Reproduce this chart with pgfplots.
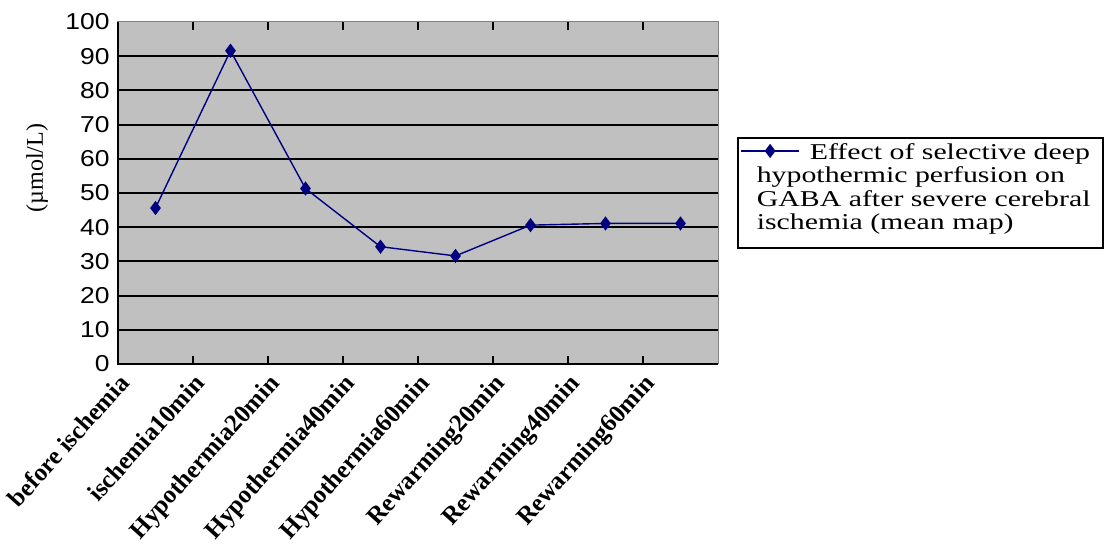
\documentclass[border=0pt]{standalone}
\usepackage{pgfplots}
\pgfplotsset{compat=1.18}
\usepackage{fontspec}
\setmainfont{Liberation Serif}
\newfontfamily\legfont[FakeStretch=1.32]{Liberation Serif}
\newfontfamily\tickfont[FakeStretch=1.15]{Liberation Sans}
\definecolor{bggray}{HTML}{C0C0C0}
\definecolor{navy}{HTML}{000080}
\definecolor{framegray}{HTML}{808080}
\begin{document}
\begin{tikzpicture}
\begin{axis}[
  scale only axis,
  width=300pt, height=171pt,
  xmin=0.5, xmax=8.5,
  ymin=0, ymax=100,
  axis background/.style={fill=bggray},
  axis line style={draw=framegray, line width=0.5pt},
  xtick={1,...,8},
  xticklabels={before ischemia,ischemia10min,Hypothermia20min,Hypothermia40min,Hypothermia60min,Rewarming20min,Rewarming40min,Rewarming60min},
  minor xtick={1.5,2.5,...,7.5},
  major tick length=0pt,
  minor tick length=4pt,
  tick align=inside,
  minor tick style={black, line width=0.7pt},
  xticklabel style={font=\fontsize{12.5}{14}\selectfont\bfseries, xshift=-19pt, yshift=-4pt, rotate=48, anchor=north east, inner sep=0pt},
  ytick={0,10,...,90},
  extra y ticks={100},
  extra y tick style={grid=none},
  ymajorgrids,
  grid style={black, line width=1pt},
  yticklabel style={font=\tickfont\fontsize{11.5}{13}\selectfont, inner sep=0pt, xshift=-4pt},
  /pgf/number format/assume math mode=true,
  ylabel={(µmol/L)},
  ylabel style={font=\fontsize{12}{14}\selectfont, at={(rel axis cs:-0.135,0.573)}, anchor=center},
  clip=false,
  legend image code/.code={\draw[mark repeat=2,mark phase=2] plot coordinates {(0pt,0pt) (14.5pt,0pt) (29pt,0pt)};},
  legend style={at={(rel axis cs:1.0367,0.6228)}, anchor=west, draw=none, fill=none, inner sep=0pt, column sep=5pt, nodes={inner sep=0pt}},
]
\addplot[navy, line width=0.7pt, mark=diamond*, mark size=3pt, mark options={fill=navy, draw=navy}]
  coordinates {(1,45.6) (2,91.6) (3,51.3) (4,34.3) (5,31.6) (6,40.6) (7,41.1) (8,41.1)};
\addlegendentry{\smash{\raisebox{-5pt}{\legfont\fontsize{11.3}{11.7}\selectfont\vtop{\baselineskip=11.7pt
  \hbox{Effect of selective deep}
  \hbox{\hskip-26.5pt hypothermic perfusion on}
  \hbox{\hskip-26.5pt GABA after severe cerebral}
  \hbox{\hskip-26.5pt ischemia (mean map)}}}}}
\draw[black, line width=1pt] (rel axis cs:0,1) -- (rel axis cs:0,0) -- (rel axis cs:1,0);
\end{axis}
\draw[black, line width=0.7pt] (310pt,58pt) rectangle (492.5pt,113pt);
\pgfresetboundingbox
\path[use as bounding box] (-59pt,-92.5pt) rectangle (493.5pt,182pt);
\end{tikzpicture}
\end{document}
